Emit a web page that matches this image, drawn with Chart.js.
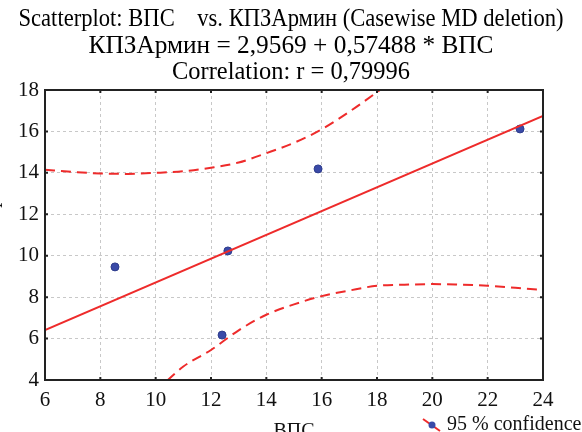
<!DOCTYPE html>
<html>
<head>
<meta charset="utf-8">
<script src="https://cdn.jsdelivr.net/npm/chart.js@4"></script>
<style>
  body { margin: 0; background: #fff; }
  canvas { display: block; }
</style>
</head>
<body>
<canvas id="c" width="582" height="432"></canvas>
<script>
// observed cases
const pointsX = [8.53, 12.61, 12.40, 15.87, 23.17];
const pointsY = [9.46, 10.23, 6.17, 14.19, 16.12];
// regression line КПЗАрмин = 2,9569 + 0,57488 * ВПС
const fitX = [6, 24];
const fitY = [6.41, 16.75];
// 95 % confidence band
const upperX = [6, 7, 8, 9, 10, 11, 12, 13, 14, 15, 16, 17, 18, 19];
const upperY = [14.15, 14.05, 13.97, 13.95, 14.0, 14.08, 14.25, 14.5, 14.95, 15.45, 16.1, 16.95, 17.9, 18.9];
const lowerX = [10, 11, 12, 13, 14, 15, 16, 17, 18, 19, 20, 21, 22, 23, 24];
const lowerY = [3.45, 4.65, 5.45, 6.4, 7.15, 7.65, 8.05, 8.32, 8.55, 8.6, 8.63, 8.6, 8.55, 8.45, 8.35];

const titleLines = [
  'Scatterplot: ВПС    vs. КПЗАрмин (Casewise MD deletion)',
  'КПЗАрмин = 2,9569 + 0,57488 * ВПС',
  'Correlation: r = 0,79996'
];
const xTitle = 'ВПС';
const yTitle = 'КПЗАрмин';
const legendText = '95 % confidence';

const serif = 'Liberation Serif, Times New Roman, serif';
const red = '#ee2b2b';
const blue = '#3a4aa8';

const zip = (xs, ys) => xs.map((x, i) => ({ x: x, y: ys[i] }));

// the original title font is a narrow Times, so each line is squeezed to its width
const titleBase = [26, 52.5, 79];
const titleWidth = [545, 405, 238];

const extras = {
  id: 'extras',
  afterDraw(chart) {
    const { ctx, chartArea: a, scales } = chart;
    ctx.save();
    ctx.strokeStyle = '#222';
    ctx.lineWidth = 2;
    ctx.strokeRect(a.left, a.top, a.right - a.left, a.bottom - a.top);

    // short inward ticks on all four sides
    ctx.beginPath();
    scales.x.ticks.forEach(t => {
      const px = scales.x.getPixelForValue(t.value);
      ctx.moveTo(px, a.bottom); ctx.lineTo(px, a.bottom - 3);
      ctx.moveTo(px, a.top); ctx.lineTo(px, a.top + 3);
    });
    scales.y.ticks.forEach(t => {
      const py = scales.y.getPixelForValue(t.value);
      ctx.moveTo(a.left, py); ctx.lineTo(a.left + 3, py);
      ctx.moveTo(a.right, py); ctx.lineTo(a.right - 3, py);
    });
    ctx.stroke();

    ctx.fillStyle = '#000';
    ctx.font = '26px ' + serif;
    ctx.textAlign = 'center';
    ctx.textBaseline = 'alphabetic';
    titleLines.forEach((t, i) => {
      const w = ctx.measureText(t).width;
      ctx.save();
      ctx.translate(291, titleBase[i]);
      ctx.scale(titleWidth[i] / w, 1);
      ctx.fillText(t, 0, 0);
      ctx.restore();
    });

    ctx.fillStyle = '#111';
    ctx.font = '20px ' + serif;
    ctx.fillText(xTitle, (a.left + a.right) / 2, 437);

    ctx.save();
    ctx.translate(-3, 212);
    ctx.rotate(-Math.PI / 2);
    ctx.fillText(yTitle, 0, 0);
    ctx.restore();

    // legend
    ctx.strokeStyle = red;
    ctx.lineWidth = 2;
    ctx.beginPath();
    ctx.moveTo(423, 419);
    ctx.lineTo(440, 431);
    ctx.stroke();
    ctx.fillStyle = blue;
    ctx.beginPath();
    ctx.arc(432, 425, 3.5, 0, Math.PI * 2);
    ctx.fill();
    ctx.fillStyle = '#111';
    ctx.textAlign = 'left';
    ctx.fillText(legendText, 447, 430);
    ctx.restore();
  }
};

new Chart(document.getElementById('c'), {
  type: 'scatter',
  data: {
    datasets: [
      { data: zip(upperX, upperY), showLine: true, borderColor: red, borderWidth: 2, borderDash: [10, 6], pointRadius: 0, cubicInterpolationMode: 'monotone' },
      { data: zip(lowerX, lowerY), showLine: true, borderColor: red, borderWidth: 2, borderDash: [10, 6], pointRadius: 0, cubicInterpolationMode: 'monotone' },
      { data: zip(fitX, fitY), showLine: true, borderColor: red, borderWidth: 2, pointRadius: 0 },
      { data: zip(pointsX, pointsY), pointRadius: 4, backgroundColor: blue, borderColor: '#2e3c8c', borderWidth: 1 },
      { data: zip(pointsX, pointsY), pointStyle: 'line', pointRadius: 1.5, borderColor: '#fff', borderWidth: 1 }
    ]
  },
  options: {
    responsive: false,
    animation: false,
    events: [],
    layout: { padding: { left: 0, right: 39, top: 90, bottom: 0 } },
    plugins: {
      legend: { display: false },
      tooltip: { enabled: false },
      title: { display: false }
    },
    scales: {
      x: {
        type: 'linear', min: 6, max: 24,
        afterFit: s => { s.height = 52; },
        ticks: { stepSize: 2, color: '#111', padding: 8, font: { family: serif, size: 21 } },
        grid: { color: '#c8c8c8', drawTicks: false },
        border: { display: false, dash: [3, 3] }
      },
      y: {
        type: 'linear', min: 4, max: 18,
        afterFit: s => { s.width = 45; },
        ticks: { stepSize: 2, color: '#111', padding: 6, font: { family: serif, size: 21 } },
        grid: { color: '#c8c8c8', drawTicks: false },
        border: { display: false, dash: [3, 3] }
      }
    }
  },
  plugins: [extras]
});
</script>
</body>
</html>
